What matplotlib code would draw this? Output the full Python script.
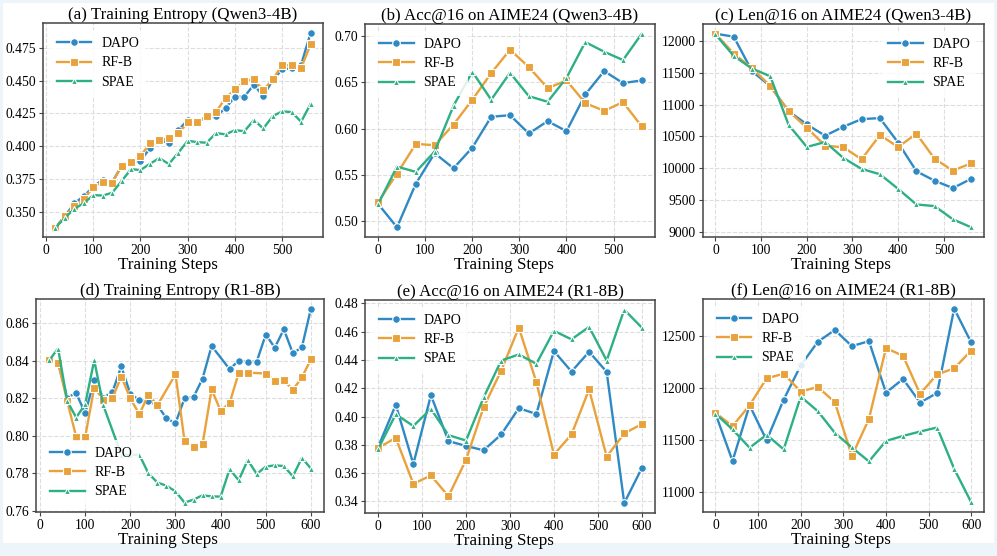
import numpy as np
import matplotlib
matplotlib.use("Agg")
import matplotlib.pyplot as plt
from matplotlib.patches import Rectangle

plt.rcParams['font.family'] = ['Liberation Serif', 'DejaVu Serif']
plt.rcParams['mathtext.fontset'] = 'stix'

# ---- data ----
# (a) training entropy, Qwen3-4B
steps_a = [20, 40, 60, 80, 100, 120, 140, 160, 180, 200, 220, 240, 260, 280,
           300, 320, 340, 360, 380, 400, 420, 440, 460, 480, 500, 520, 540, 560]
ent_q_dapo = [0.338, 0.3467, 0.3564, 0.362, 0.369, 0.3746, 0.3726, 0.3848, 0.388, 0.3889,
              0.3983, 0.4051, 0.4021, 0.4122, 0.4199, 0.4183, 0.4224, 0.4227, 0.429, 0.4377,
              0.4377, 0.4468, 0.4381, 0.4504, 0.4585, 0.4593, 0.462, 0.4862]
ent_q_rfb = [0.338, 0.3467, 0.3543, 0.3594, 0.369, 0.3729, 0.3721, 0.3848, 0.388, 0.3924,
             0.4021, 0.4046, 0.4061, 0.4097, 0.4181, 0.4181, 0.4229, 0.4262, 0.4366, 0.4432,
             0.4496, 0.4509, 0.4425, 0.4509, 0.4618, 0.4615, 0.4595, 0.4775]
ent_q_spae = [0.338, 0.3454, 0.3523, 0.3566, 0.3627, 0.3624, 0.3645, 0.3734, 0.3825, 0.3818,
              0.3866, 0.3909, 0.3864, 0.395, 0.4041, 0.4031, 0.4026, 0.41, 0.409, 0.4122,
              0.4114, 0.4199, 0.4135, 0.4229, 0.4265, 0.426, 0.4186, 0.4321]

# (b) / (c) eval, Qwen3-4B
steps_bc = [0, 40, 80, 120, 160, 200, 240, 280, 320, 360, 400, 440, 480, 520, 560]
acc_q_dapo = [0.5181, 0.4928, 0.5402, 0.5732, 0.5569, 0.5793, 0.6127, 0.6145, 0.5946, 0.608,
              0.5971, 0.637, 0.6623, 0.6493, 0.6522]
acc_q_rfb = [0.5203, 0.5511, 0.5833, 0.5819, 0.6043, 0.6312, 0.6601, 0.6855, 0.6667, 0.6438,
             0.6522, 0.6275, 0.6192, 0.6286, 0.6022]
acc_q_spae = [0.5181, 0.5587, 0.5529, 0.575, 0.6246, 0.6616, 0.6312, 0.6605, 0.6351, 0.629,
              0.655, 0.6938, 0.6833, 0.6743, 0.7029]
len_q_dapo = [12115, 12068, 11525, 11290, 10899, 10690, 10512, 10653, 10773, 10789,
              10403, 9954, 9804, 9689, 9836]
len_q_rfb = [12115, 11802, 11572, 11295, 10899, 10638, 10356, 10330, 10142, 10523,
             10335, 10544, 10147, 9964, 10079]
len_q_spae = [12104, 11765, 11567, 11446, 10684, 10335, 10413, 10163, 9990, 9907,
              9677, 9432, 9406, 9198, 9073]

# (d) training entropy, R1-8B (some steps missing per series)
steps_d_dapo = [20, 40, 60, 80, 100, 120, 140, 160, 180, 200, 220, 240, 260, 280, 300,
                320, 340, 360, 380, 420, 440, 460, 480, 500, 520, 540, 560, 580, 600]
ent_r_dapo = [0.8403, 0.839, 0.8204, 0.8227, 0.812, 0.8296, 0.8204, 0.8231, 0.8371, 0.8222,
              0.8191, 0.8184, 0.8163, 0.8092, 0.8067, 0.8199, 0.8206, 0.8305, 0.8479,
              0.8355, 0.8401, 0.8394, 0.8396, 0.854, 0.847, 0.8568, 0.844, 0.8472, 0.8678]
steps_d_rfb = [20, 40, 60, 80, 100, 120, 140, 160, 180, 200, 220, 240, 260, 300,
               320, 340, 360, 380, 400, 420, 440, 460, 500, 520, 540, 560, 580, 600]
ent_r_rfb = [0.8403, 0.8389, 0.8186, 0.7994, 0.7994, 0.8257, 0.8193, 0.82, 0.8316, 0.8199,
             0.8115, 0.8218, 0.8163, 0.8328, 0.7973, 0.7939, 0.7955, 0.8247, 0.8133,
             0.8176, 0.8334, 0.8337, 0.8332, 0.8293, 0.8296, 0.8245, 0.8311, 0.8408]
steps_d_spae = [20, 40, 60, 80, 100, 120, 140, 180, 200, 220, 240, 260, 280, 300,
                320, 340, 360, 380, 400, 420, 440, 460, 480, 500, 520, 540, 560, 580, 600]
ent_r_spae = [0.8403, 0.8465, 0.8186, 0.8097, 0.8168, 0.8403, 0.8163, 0.7898, 0.7898, 0.7898,
              0.7799, 0.775, 0.7733, 0.7703, 0.7643, 0.7659, 0.7682, 0.7676, 0.7675,
              0.7822, 0.7762, 0.787, 0.7796, 0.7835, 0.7842, 0.7838, 0.7783, 0.7882, 0.7825]

# (e) / (f) eval, R1-8B
steps_ef = [0, 40, 80, 120, 160, 200, 240, 280, 320, 360, 400, 440, 480, 520, 560, 600]
acc_r_dapo = [0.3785, 0.4083, 0.3664, 0.4151, 0.3826, 0.3792, 0.3761, 0.3873, 0.4059, 0.4018,
              0.4463, 0.4318, 0.4458, 0.4316, 0.3388, 0.3635]
acc_r_rfb = [0.3778, 0.3849, 0.3524, 0.3583, 0.3436, 0.3695, 0.4066, 0.4325, 0.4629, 0.4244,
             0.3731, 0.3873, 0.4192, 0.3716, 0.388, 0.3947]
acc_r_spae = [0.3771, 0.4016, 0.3933, 0.4054, 0.3868, 0.383, 0.4135, 0.4396, 0.4439, 0.4373,
              0.4606, 0.4546, 0.4634, 0.4396, 0.4756, 0.4629]
len_r_dapo = [11754, 11298, 11834, 11496, 11888, 12217, 12443, 12558, 12402, 12450,
              11955, 12086, 11860, 11952, 12762, 12437]
len_r_rfb = [11761, 11633, 11834, 12093, 12137, 11965, 12010, 11863, 11345, 11702,
             12383, 12309, 11943, 12131, 12188, 12360]
len_r_spae = [11754, 11601, 11426, 11550, 11410, 11917, 11777, 11569, 11428, 11294,
              11491, 11539, 11581, 11620, 11223, 10901]

c_dapo = '#2F8AC4'
c_rfb = '#E9A23B'
c_spae = '#2DB083'

fig = plt.figure(figsize=(9.97, 5.56), dpi=100, facecolor='#EDF5FB')
# white page area inside the light blue border
fig.patches.append(Rectangle((3 / 997, 1 - 543 / 556), 991 / 997, 540 / 556,
                             transform=fig.transFigure, facecolor='white',
                             edgecolor='none', zorder=-10))

W, H = 997, 556
boxes = [(42.7, 23.3, 323.3, 237.3), (365, 24, 655, 237), (702.7, 24, 984, 237),
         (36, 299, 324, 512.3), (365, 300, 655, 512.7), (702.7, 299, 984, 512)]
xlabel_x = [0.448, 0.479, 0.492, 0.458, 0.479, 0.49]
axes = []
for l, t, r, b in boxes:
    ax = fig.add_axes([l / W, 1 - b / H, (r - l) / W, (b - t) / H])
    axes.append(ax)


def draw(ax, series, title, loc, ylabfmt=None):
    for x, y, lab, col, mk, ms in series:
        ax.plot(x, y, color=col, marker=mk, markersize=ms, markeredgecolor='white',
                markeredgewidth=0.8, linewidth=1.7, label=lab)
    ax.set_title(title, fontsize=12.2, pad=3)
    ax.set_xlabel('Training Steps', fontsize=12.3, labelpad=0)
    ax.grid(True, linestyle='--', color='#dddddd', linewidth=0.8)
    ax.set_axisbelow(True)
    for s in ax.spines.values():
        s.set_color('#444444')
        s.set_linewidth(1.1)
    ax.tick_params(labelsize=9.8, length=3, width=0.8, color='#444444', pad=2)
    if ylabfmt:
        ax.yaxis.set_major_formatter(plt.FormatStrFormatter(ylabfmt))
    ax.legend(loc=loc, fontsize=10, frameon=True, framealpha=0.85,
              edgecolor='none', handlelength=2.5, handletextpad=0.7,
              borderpad=0.5, labelspacing=0.45)


draw(axes[0], [(steps_a, ent_q_dapo, 'DAPO', c_dapo, 'o', 5.5),
               (steps_a, ent_q_rfb, 'RF-B', c_rfb, 's', 5.5),
               (steps_a, ent_q_spae, 'SPAE', c_spae, '^', 5)],
     '(a) Training Entropy (Qwen3-4B)', 'upper left', '%.3f')
axes[0].set_yticks([0.350, 0.375, 0.400, 0.425, 0.450, 0.475])
axes[0].set_xticks([0, 100, 200, 300, 400, 500])

draw(axes[1], [(steps_bc, acc_q_dapo, 'DAPO', c_dapo, 'o', 5.5),
               (steps_bc, acc_q_rfb, 'RF-B', c_rfb, 's', 5.5),
               (steps_bc, acc_q_spae, 'SPAE', c_spae, '^', 5)],
     '(b) Acc@16 on AIME24 (Qwen3-4B)', 'upper left', '%.2f')
axes[1].set_xticks([0, 100, 200, 300, 400, 500])

draw(axes[2], [(steps_bc, len_q_dapo, 'DAPO', c_dapo, 'o', 5.5),
               (steps_bc, len_q_rfb, 'RF-B', c_rfb, 's', 5.5),
               (steps_bc, len_q_spae, 'SPAE', c_spae, '^', 5)],
     '(c) Len@16 on AIME24 (Qwen3-4B)', 'upper right')
axes[2].set_yticks([9000, 9500, 10000, 10500, 11000, 11500, 12000])
axes[2].set_xticks([0, 100, 200, 300, 400, 500])

draw(axes[3], [(steps_d_dapo, ent_r_dapo, 'DAPO', c_dapo, 'o', 5.5),
               (steps_d_rfb, ent_r_rfb, 'RF-B', c_rfb, 's', 5.5),
               (steps_d_spae, ent_r_spae, 'SPAE', c_spae, '^', 5)],
     '(d) Training Entropy (R1-8B)', 'lower left', '%.2f')
axes[3].set_yticks([0.76, 0.78, 0.80, 0.82, 0.84, 0.86])
axes[3].set_xticks([0, 100, 200, 300, 400, 500, 600])

draw(axes[4], [(steps_ef, acc_r_dapo, 'DAPO', c_dapo, 'o', 5.5),
               (steps_ef, acc_r_rfb, 'RF-B', c_rfb, 's', 5.5),
               (steps_ef, acc_r_spae, 'SPAE', c_spae, '^', 5)],
     '(e) Acc@16 on AIME24 (R1-8B)', 'upper left', '%.2f')
axes[4].set_yticks([0.34, 0.36, 0.38, 0.40, 0.42, 0.44, 0.46, 0.48])
axes[4].set_xticks([0, 100, 200, 300, 400, 500, 600])

draw(axes[5], [(steps_ef, len_r_dapo, 'DAPO', c_dapo, 'o', 5.5),
               (steps_ef, len_r_rfb, 'RF-B', c_rfb, 's', 5.5),
               (steps_ef, len_r_spae, 'SPAE', c_spae, '^', 5)],
     '(f) Len@16 on AIME24 (R1-8B)', 'upper left')
axes[5].set_yticks([11000, 11500, 12000, 12500])
axes[5].set_xticks([0, 100, 200, 300, 400, 500, 600])

for ax, lx in zip(axes, xlabel_x):
    ax.xaxis.label.set_x(lx)

fig.savefig('out.png', dpi=100, facecolor=fig.get_facecolor())
